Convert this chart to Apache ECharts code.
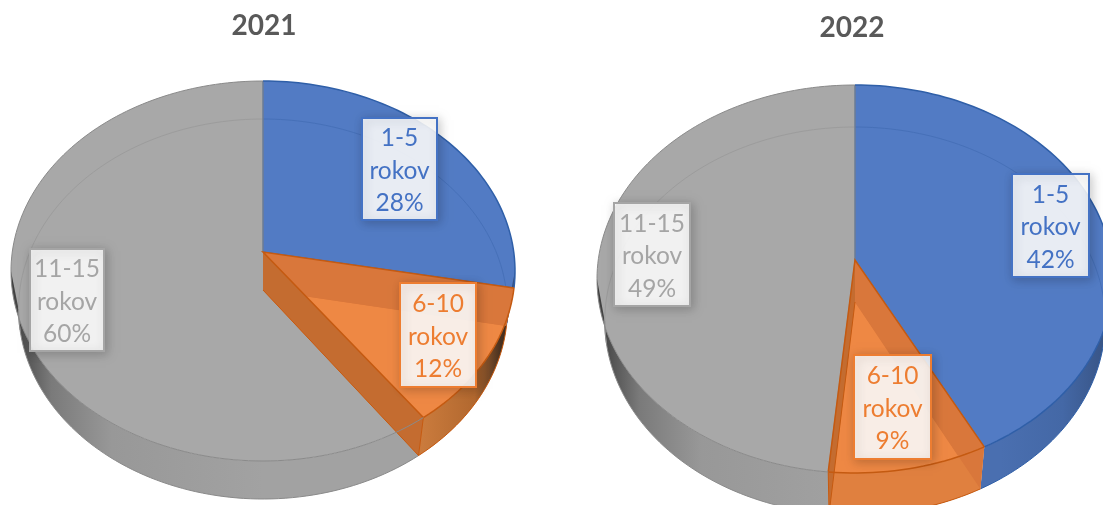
<!DOCTYPE html>
<html>
<head>
<meta charset="utf-8">
<style>html,body{margin:0;padding:0;background:#fff}#c{width:1103px;height:505px;filter:blur(0.4px)}</style>
<script src="https://cdn.jsdelivr.net/npm/echarts@6/dist/echarts.min.js"></script>
</head>
<body>
<div id="c"></div>
<script>
const categories = ['1-5', '6-10', '11-15'];
const unit = 'rokov';
const years = ['2021', '2022'];
const values2021 = [28, 12, 60];
const values2022 = [42.4, 9.1, 48.5];
const shown2021 = [28, 12, 60];
const shown2022 = [42, 9, 49];

const labelBoxes2021 = [[362, 118, 75, 102], [400, 283, 76, 104], [30, 249, 74, 102]];
const labelBoxes2022 = [[1012, 174, 77, 103], [854, 355, 77, 104], [614, 203, 76, 103]];

const geom2021 = {cx: 263, cy: 252, back: 171, front: 209, half: 252, depth: 38, left: 11, lowScale: 0.97};
const geom2022 = {cx: 855, cy: 260, back: 175, front: 213, half: 258, depth: 42, left: 598, lowScale: 0.97};

const textColors = ['#4472c4', '#ed7d31', '#a5a5a5'];
const faceColors = ['#527bc4', '#d9773b', '#a8a8a8'];
const edgeColors = ['#2f5fa8', '#c55a11', '#8a8a8a'];
const rimColors = ['#4670b8', '#d9773b', '#9c9c9c'];
const wallStops = [
  [[0, '#4a6fb0'], [0.78, '#4a6fb0'], [0.9, '#4468a6'], [1, '#35507f']],
  [[0, '#e0803f'], [0.76, '#e0803f'], [0.82, '#c97a3c'], [0.92, '#b2682f'], [0.97, '#4a3220'], [1, '#33261d']],
  [[0, '#3c3c3c'], [0.03, '#555555'], [0.08, '#7a7a7a'], [0.2, '#989898'], [0.5, '#a2a2a2'], [1, '#a2a2a2']]
];
const orangeLight = '#ee8844';
const FONT = 'Lato, Carlito, sans-serif';

function projector(g) {
  const k = (g.front - g.back) / (g.front + g.back);
  const a = g.back * (1 + k);
  const b = g.half * Math.sqrt(1 - k * k);
  return {
    k,
    at(deg, low) {
      const t = deg * Math.PI / 180, d = 1 + k * Math.cos(t);
      const sx = low ? g.lowScale : 1;
      return [g.cx + sx * b * Math.sin(t) / d, g.cy + (low ? g.depth : 0) - a * Math.cos(t) / d];
    },
    arc(from, to, low) {
      const n = Math.max(2, Math.ceil(Math.abs(to - from) / 1.5)), pts = [];
      for (let i = 0; i <= n; i++) pts.push(this.at(from + (to - from) * i / n, low));
      return pts;
    },
    apex(low) { return [g.cx, g.cy + (low ? g.depth : 0)]; }
  };
}

function makeRender(values, shown, boxes, g) {
  const total = values.reduce((s, v) => s + v, 0);
  const P = projector(g);
  const limit = Math.acos(-P.k) * 180 / Math.PI;
  return function (params, api) {
    const i = params.dataIndex;
    let before = 0;
    for (let j = 0; j < i; j++) before += values[j];
    const from = before / total * 360;
    const to = from + api.value(0) / total * 360;
    const kids = [];
    const poly = (points, fill, z2) => kids.push({type: 'polygon', z2, shape: {points}, style: {fill}});
    const line = (points, stroke, lineWidth, z2) => kids.push({type: 'polyline', z2, shape: {points}, style: {stroke, lineWidth, fill: 'none'}});
    const isMid = i === 1;
    const base = isMid ? 10 : 1;

    // outer wall
    const wFrom = Math.max(from, limit), wTo = Math.min(to, 360 - limit);
    if (wTo > wFrom) {
      const upper = P.arc(wFrom, wTo, false), lower = P.arc(wFrom, wTo, true);
      const wall = upper.concat(lower.slice().reverse());
      kids.push({type: 'polygon', z2: base + 2, shape: {points: wall}, style: {fill: {
        type: 'linear', global: true, x: g.left, y: 0, x2: g.left + 2 * g.half, y2: 0,
        colorStops: wallStops[i].map(s => ({offset: s[0], color: s[1]}))
      }}});
      line(lower, edgeColors[i], 1, base + 8);
      if (isMid) line([P.at(wTo, false), P.at(wTo, true)], edgeColors[i], 1, base + 8);
    }
    // top face
    poly([P.apex(false)].concat(P.arc(from, to, false)), faceColors[i], base);
    if (isMid) {
      poly([P.apex(true)].concat(P.arc(from, to, true)), orangeLight, base + 1);
      poly([P.apex(false), P.at(from, false), P.at(from, true), P.apex(true)], '#d9773b', base + 3);
      poly([P.apex(false), P.at(to, false), P.at(to, true), P.apex(true)], '#c46c30', base + 3);
      line([P.apex(true), P.at(to, true)], edgeColors[i], 1, base + 4);
    }
    // rim of the lower disc seen through the top face (back half only)
    if (!isMid) {
      if (from < 100) line(P.arc(Math.max(from, 0), Math.min(to, 100), true), rimColors[i], 1, base + 4);
      if (to > 258) line(P.arc(Math.max(from, 258), to, true), rimColors[i], 1, base + 4);
    }
    // edges of the top face
    line(P.arc(from, to, false), edgeColors[i], i === 2 ? 1 : 1.5, i === 2 ? 30 : base + 6);
    line([P.at(from, false), P.apex(false), P.at(to, false)], edgeColors[i], isMid ? 1.5 : 1, isMid ? base + 7 : base + 5);

    // data label
    const b = boxes[i];
    kids.push({type: 'rect', z2: 40, shape: {x: b[0], y: b[1], width: b[2], height: b[3]},
      style: {fill: 'rgba(255,255,255,0.88)', stroke: textColors[i], lineWidth: 2,
        shadowBlur: 10, shadowColor: 'rgba(0,0,0,0.22)', shadowOffsetX: 2, shadowOffsetY: 2}});
    kids.push({type: 'text', z2: 41, style: {
      text: categories[i] + '\n' + unit + '\n' + shown[i] + '%',
      x: b[0] + b[2] / 2, y: b[1] + b[3] / 2 + 2, align: 'center', verticalAlign: 'middle',
      fill: textColors[i], font: '24.5px ' + FONT, lineHeight: 32.5}});
    return {type: 'group', children: kids};
  };
}

const chart = echarts.init(document.getElementById('c'), null, {renderer: 'canvas'});
chart.setOption({
  animation: false,
  backgroundColor: '#ffffff',
  title: [
    {text: years[0], left: 259, top: 7, textAlign: 'center', textStyle: {color: '#595959', fontFamily: FONT, fontWeight: 'bold', fontSize: 28}},
    {text: years[1], left: 847, top: 9, textAlign: 'center', textStyle: {color: '#595959', fontFamily: FONT, fontWeight: 'bold', fontSize: 28}}
  ],
  series: [
    {type: 'custom', name: years[0], coordinateSystem: 'none', silent: true,
     renderItem: makeRender(values2021, shown2021, labelBoxes2021, geom2021),
     data: values2021.map(v => [v])},
    {type: 'custom', name: years[1], coordinateSystem: 'none', silent: true,
     renderItem: makeRender(values2022, shown2022, labelBoxes2022, geom2022),
     data: values2022.map(v => [v])}
  ]
});
</script>
</body>
</html>
